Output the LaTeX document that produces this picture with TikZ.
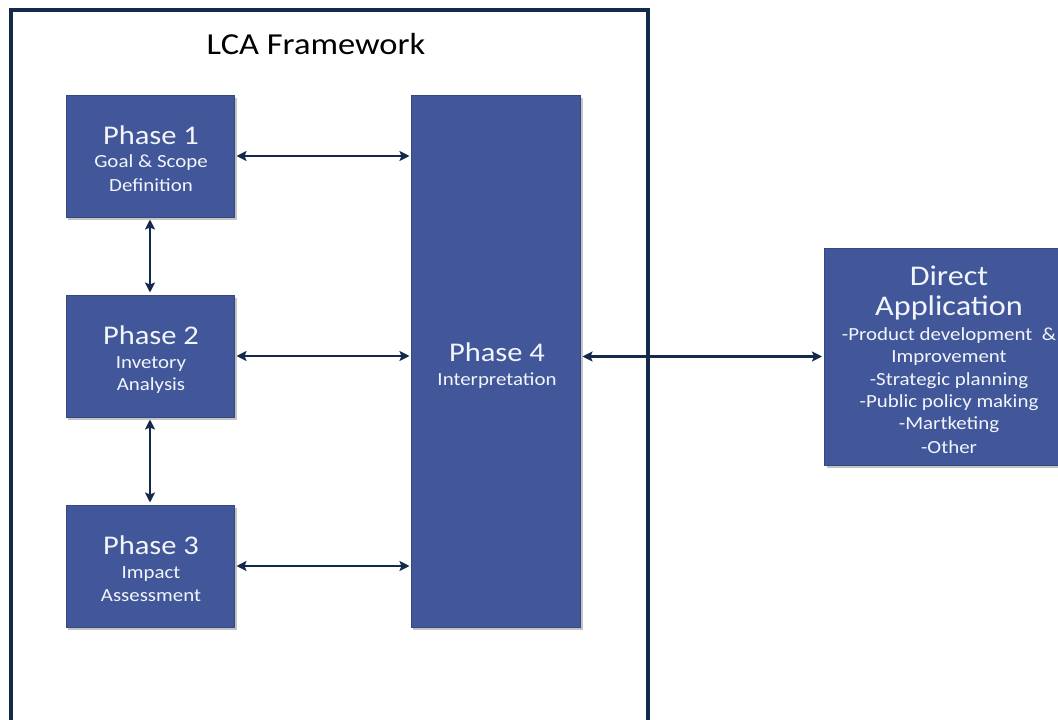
\documentclass[tikz,border=0pt]{standalone}
\usepackage{fontspec}
\setmainfont[FakeStretch=1.13]{Carlito}
\usetikzlibrary{arrows.meta}
\definecolor{boxfill}{HTML}{41579A}
\definecolor{boxedge}{HTML}{34497F}
\definecolor{navy}{HTML}{142A4A}
\definecolor{txtcol}{HTML}{F2F5FB}
\definecolor{shadowcol}{HTML}{C4C4C4}
\tikzset{
  phasebox/.style={draw=boxedge, line width=1pt, fill=boxfill, inner sep=0pt},
  arr/.style={draw=navy, line width=2.8pt, {Stealth[length=10pt,width=10pt,inset=2pt]}-{Stealth[length=10pt,width=10pt,inset=2pt]}},
  frameline/.style={draw=navy, line width=3.4pt},
  bigtxt/.style={text=txtcol, inner sep=0pt, font=\fontsize{27}{32}\selectfont},
  apptxt/.style={text=txtcol, inner sep=0pt, font=\fontsize{28.5}{32}\selectfont},
  smalltxt/.style={text=txtcol, inner sep=0pt, font=\fontsize{18.5}{22}\selectfont},
}
\begin{document}
\begin{tikzpicture}[x=1pt,y=-1pt]
\useasboundingbox (0,0) rectangle (1058,720);
\fill[white] (0,0) rectangle (1058,720);
\draw[frameline] (11,722) -- (11,10) -- (648,10) -- (648,722);
\node[font=\fontsize{30.5}{34}\selectfont, text=black, inner sep=0pt] (title) at (316,44) {LCA Framework};
% shadows
\fill[shadowcol] (68,98) rectangle (237,220);
\fill[shadowcol] (68,298) rectangle (237,420);
\fill[shadowcol] (68,508) rectangle (237,630);
\fill[shadowcol] (413,98) rectangle (583,630);
\fill[shadowcol] (827,251) rectangle (1058,468);
% boxes
\node[phasebox, minimum width=168pt, minimum height=122pt] (p1) at (150,156) {};
\node[phasebox, minimum width=168pt, minimum height=122pt] (p2) at (150,356) {};
\node[phasebox, minimum width=168pt, minimum height=122pt] (p3) at (150,566) {};
\node[phasebox, minimum width=169pt, minimum height=532pt] (p4) at (495.5,361) {};
\node[phasebox, minimum width=245pt, minimum height=217pt] (da) at (947,356.5) {};
% texts
\node[bigtxt] (p1t) at (151,135) {Phase 1};
\node[smalltxt] (p1a) at (151,163) {Goal \& Scope};
\node[smalltxt] (p1b) at (151,185) {Definition};
\node[bigtxt] (p2t) at (151,335) {Phase 2};
\node[smalltxt] (p2a) at (151,364) {Invetory};
\node[smalltxt] (p2b) at (151,386) {Analysis};
\node[bigtxt] (p3t) at (151,545) {Phase 3};
\node[smalltxt] (p3a) at (151,574) {Impact};
\node[smalltxt] (p3b) at (151,596) {Assessment};
\node[bigtxt] (p4t) at (497,352) {Phase 4};
\node[smalltxt] (p4a) at (497,381) {Interpretation};
\node[apptxt] (d1) at (949,276) {Direct};
\node[apptxt] (d2) at (949,308) {Application};
\node[smalltxt] (d3) at (949,336) {-Product development\ \ \&};
\node[smalltxt] (d4) at (949,358) {Improvement};
\node[smalltxt] (d5) at (949,381) {-Strategic planning};
\node[smalltxt] (d6) at (949,403) {-Public policy making};
\node[smalltxt] (d7) at (949,425) {-Martketing};
\node[smalltxt] (d8) at (949,447) {-Other};
% connectors
\draw[arr, shorten <=2pt, shorten >=1pt] (p1.east) -- (p1.east -| p4.west);
\draw[arr, shorten <=2pt, shorten >=1pt] (p2.east) -- (p2.east -| p4.west);
\draw[arr, shorten <=2pt, shorten >=1pt] (p3.east) -- (p3.east -| p4.west);
\draw[arr, shorten <=2pt, shorten >=2pt] (p1.south) -- (p2.north);
\draw[arr, shorten <=2pt, shorten >=2pt] (p2.south) -- (p3.north);
\draw[arr, shorten <=2pt, shorten >=2pt] (p4.east |- da.west) -- (da.west);
\end{tikzpicture}
\end{document}
